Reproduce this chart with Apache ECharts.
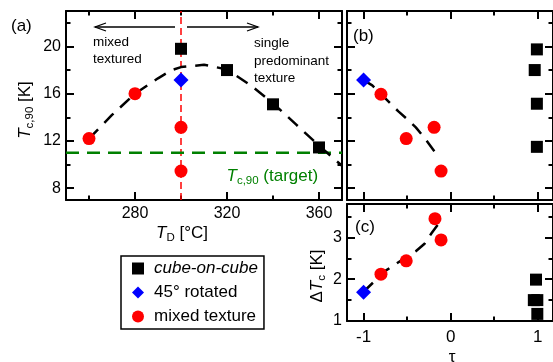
<!DOCTYPE html>
<html><head><meta charset="utf-8">
<script src="https://cdn.jsdelivr.net/npm/echarts@6/dist/echarts.min.js"></script>
<style>html,body{margin:0;padding:0;background:#fff}#c{width:553px;height:362px}</style>
</head><body><div id="c"></div>
<script>
const FONT = '"Liberation Sans", Arial, Helvetica, sans-serif';

// ---- tick values ----
const tdMajor = [280, 320, 360];
const tdMinor = [260, 300, 340];
const tcMajor = [8, 12, 16, 20];
const tcMinor = [10, 14, 18, 22];
const tauMajor = [-1, 0, 1];
const tauMinor = [-0.5, 0.5];
const dtcMajor = [1, 2, 3];
const dtcMinor = [1.5, 2.5, 3.5];

// ---- panel (a): Tc,90 vs T_D ----
const aCubeTD = [300, 320, 340, 360];
const aCubeTc = [19.8, 18.0, 15.1, 11.45];
const aRotTD = [300];
const aRotTc = [17.15];
const aMixTD = [260, 280, 300, 300];
const aMixTc = [12.2, 16.0, 13.15, 9.45];
const aFitTD = [260, 270, 280, 290, 296, 300, 310, 320, 330, 340, 350, 360, 370];
const aFitTc = [12.2, 14.2, 16.0, 17.3, 18.0, 18.25, 18.45, 18.05, 16.75, 15.2, 13.4, 11.6, 9.9];
const aSplitTD = [300, 300];
const aSplitTc = [7, 23];
const aTargetTD = [250, 370];
const aTargetTc = [11, 11];

// ---- panel (b): Tc,90 vs tau ----
const bCubeTau = [0.99, 0.965, 0.99, 0.99];
const bCubeTc = [19.75, 18.0, 15.15, 11.5];
const bRotTau = [-1];
const bRotTc = [17.15];
const bMixTau = [-0.8, -0.51, -0.19, -0.11];
const bMixTc = [15.95, 12.2, 13.15, 9.45];
const bFitTau = [-1, -0.9, -0.75, -0.6, -0.5, -0.4, -0.3, -0.2, -0.15];
const bFitTc = [17.15, 16.7, 15.6, 14.5, 13.85, 13.15, 12.25, 11.25, 10.75];

// ---- panel (c): delta Tc vs tau ----
const cCubeTau = [0.98, 0.955, 0.995, 0.995];
const cCubeDT = [1.99, 1.5, 1.5, 1.17];
const cRotTau = [-1];
const cRotDT = [1.69];
const cMixTau = [-0.8, -0.51, -0.18, -0.11];
const cMixDT = [2.12, 2.44, 3.45, 2.94];
const cFitTau = [-1, -0.75, -0.5, -0.4, -0.3, -0.22, -0.15];
const cFitDT = [1.7, 2.2, 2.54, 2.67, 2.85, 3.1, 3.3];

const zip = (a, b) => a.map((v, i) => [v, b[i]]);

function axisSet(grid, min, max, major, minor, sides, label) {
  const mk = (pos, ticks, len, showLine, lbl) => ({
    type: 'value', gridIndex: grid, min: min, max: max, position: pos,
    splitLine: { show: false },
    axisLine: { show: showLine, onZero: false, lineStyle: { color: '#000', width: 2 } },
    axisTick: { show: true, inside: true, length: len, customValues: ticks, lineStyle: { color: '#000', width: 2 } },
    axisLabel: lbl ? Object.assign({ show: true, customValues: ticks, color: '#000', fontFamily: FONT }, lbl) : { show: false }
  });
  return [
    mk(sides[0], major, 8, true, label),
    mk(sides[0], minor, 4.5, false, null),
    mk(sides[1], major, 8, true, null),
    mk(sides[1], minor, 4.5, false, null)
  ];
}

const xAxes = [].concat(
  axisSet(0, 250, 370, tdMajor, tdMinor, ['bottom', 'top'], { fontSize: 16, margin: 6 }),
  axisSet(1, -1.19, 1.175, tauMajor, tauMinor, ['bottom', 'top'], null),
  axisSet(2, -1.19, 1.175, tauMajor, tauMinor, ['bottom', 'top'], { fontSize: 17, margin: 8 })
);
const yAxes = [].concat(
  axisSet(0, 7, 23, tcMajor, tcMinor, ['left', 'right'], { fontSize: 16, margin: 5 }),
  axisSet(1, 7, 23, tcMajor, tcMinor, ['left', 'right'], null),
  axisSet(2, 1, 3.8, dtcMajor, dtcMinor, ['left', 'right'], { fontSize: 16, margin: 5 })
);

function panelSeries(g, fit, cube, rot, mix) {
  const ax = { xAxisIndex: 4 * g, yAxisIndex: 4 * g };
  return [
    Object.assign({ type: 'line', data: fit, symbol: 'none', z: 1, silent: true,
      lineStyle: { color: '#000', width: 2.5, type: [13, 9] } }, ax),
    Object.assign({ type: 'scatter', name: 'cube-on-cube', data: cube, symbol: 'rect', symbolSize: 12,
      itemStyle: { color: '#000', opacity: 1 }, z: 3 }, ax),
    Object.assign({ type: 'scatter', name: '45° rotated', data: rot, symbol: 'diamond', symbolSize: 15,
      itemStyle: { color: '#0000ff', opacity: 1 }, z: 3 }, ax),
    Object.assign({ type: 'scatter', name: 'mixed texture', data: mix, symbol: 'circle', symbolSize: 13,
      itemStyle: { color: '#ff0000', opacity: 1 }, z: 3 }, ax)
  ];
}

const series = [
  { type: 'line', xAxisIndex: 0, yAxisIndex: 0, data: zip(aSplitTD, aSplitTc), symbol: 'none', z: 0, silent: true,
    lineStyle: { color: '#ff0000', width: 1.5, type: [7, 4] } },
  { type: 'line', xAxisIndex: 0, yAxisIndex: 0, data: zip(aTargetTD, aTargetTc), symbol: 'none', z: 0, silent: true,
    lineStyle: { color: '#008000', width: 2.5, type: [13, 8] } }
].concat(
  panelSeries(0, zip(aFitTD, aFitTc), zip(aCubeTD, aCubeTc), zip(aRotTD, aRotTc), zip(aMixTD, aMixTc)),
  panelSeries(1, zip(bFitTau, bFitTc), zip(bCubeTau, bCubeTc), zip(bRotTau, bRotTc), zip(bMixTau, bMixTc)),
  panelSeries(2, zip(cFitTau, cFitDT), zip(cCubeTau, cCubeDT), zip(cRotTau, cRotDT), zip(cMixTau, cMixDT))
);

function richFor(color, size) {
  return {
    i: { fontStyle: 'italic', fontSize: size, lineHeight: 22, fontFamily: FONT, fill: color, color: color },
    n: { fontSize: size, lineHeight: 22, fontFamily: FONT, fill: color, color: color },
    s: { fontSize: 11.5, lineHeight: 11, verticalAlign: 'bottom', fontFamily: FONT, fill: color, color: color }
  };
}
function txt(x, y, text, opts) {
  return { type: 'text', x: x, y: y, z: 100, rotation: (opts && opts.rotation) || 0,
    style: Object.assign({ text: text, fontFamily: FONT, fontSize: 16, fill: '#000',
      align: 'left', verticalAlign: 'middle', textAlign: 'left', textVerticalAlign: 'middle' }, opts && opts.style) };
}
function line(x1, y1, x2, y2) {
  return { type: 'line', z: 100, shape: { x1, y1, x2, y2 }, style: { stroke: '#000', lineWidth: 1.3 } };
}
function head(pts) {
  return { type: 'polyline', z: 100, shape: { points: pts }, style: { stroke: '#000', lineWidth: 1.3, fill: null } };
}

const graphic = [
  txt(11, 26, '(a)', { style: { fontSize: 17 } }),
  txt(353, 36, '(b)', { style: { fontSize: 17 } }),
  txt(355, 227, '(c)', { style: { fontSize: 17 } }),
  txt(93, 42, 'mixed', { style: { fontSize: 13.5 } }),
  txt(93, 59, 'textured', { style: { fontSize: 13.5 } }),
  txt(254, 43, 'single', { style: { fontSize: 13.5 } }),
  txt(254, 61, 'predominant', { style: { fontSize: 13.5 } }),
  txt(254, 78, 'texture', { style: { fontSize: 13.5 } }),
  line(95, 27, 175, 27), head([[106, 23], [95, 27], [106, 31]]),
  line(187, 27, 258, 27), head([[247, 23], [258, 27], [247, 31]]),
  txt(226.5, 176, '{i|T}{s|c,90}{n| (target)}', { style: { fontSize: 17, lineHeight: 22, fill: '#008000', rich: richFor('#008000', 17) } }),
  txt(182, 233, '{i|T}{s|D}{n| [°C]}', { style: { fontSize: 17, lineHeight: 22, align: 'center', textAlign: 'center', rich: richFor('#000', 17) } }),
  txt(25, 110, '{i|T}{s|c,90}{n| [K]}', { rotation: Math.PI / 2, style: { fontSize: 17, lineHeight: 22, align: 'center', textAlign: 'center', rich: richFor('#000', 17) } }),
  txt(317, 276, '{n|Δ}{i|T}{s|c}{n| [K]}', { rotation: Math.PI / 2, style: { fontSize: 17, lineHeight: 22, align: 'center', textAlign: 'center', rich: richFor('#000', 17) } }),
  txt(452, 357, 'τ', { style: { fontSize: 17, align: 'center', textAlign: 'center' } })
];

const chart = echarts.init(document.getElementById('c'), null, { renderer: 'canvas' });
chart.setOption({
  backgroundColor: '#fff',
  animation: false,
  textStyle: { fontFamily: FONT },
  grid: [
    { left: 66, top: 11, width: 276, height: 189 },
    { left: 347, top: 11, width: 208, height: 189 },
    { left: 347, top: 204, width: 208, height: 117 }
  ],
  xAxis: xAxes,
  yAxis: yAxes,
  legend: {
    orient: 'vertical', left: 121, top: 256, selectedMode: false,
    itemWidth: 12, itemHeight: 12, itemGap: 7,
    padding: [4, 6, 4, 11],
    borderColor: '#000', borderWidth: 1.5, backgroundColor: '#fff',
    textStyle: { fontSize: 17, color: '#000', fontFamily: FONT, padding: [0, 0, 0, 5] },
    data: [
      { name: 'cube-on-cube', icon: 'rect', textStyle: { fontStyle: 'italic' } },
      { name: '45° rotated', icon: 'diamond' },
      { name: 'mixed texture', icon: 'circle' }
    ]
  },
  series: series,
  graphic: graphic
});
</script></body></html>
